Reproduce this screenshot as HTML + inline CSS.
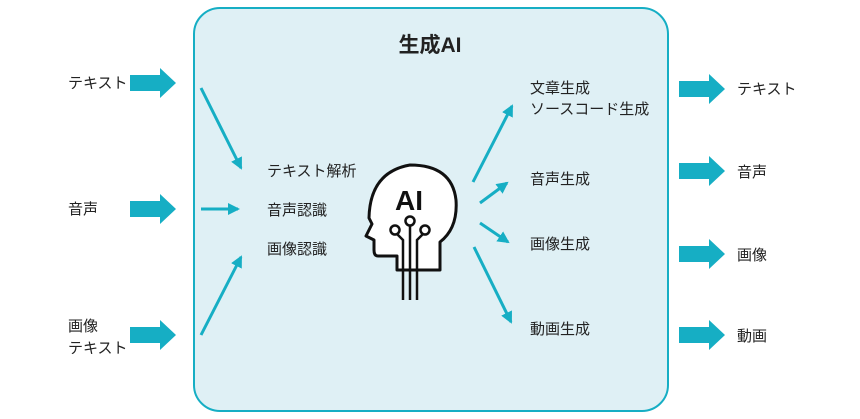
<!DOCTYPE html>
<html><head><meta charset="utf-8"><style>
html,body{margin:0;padding:0;background:#fff;width:860px;height:419px;overflow:hidden}
svg text{font-family:"Liberation Sans","Noto Sans CJK JP",sans-serif;fill:#222;font-size:15px}
</style></head><body>
<svg width="860" height="419" viewBox="0 0 860 419" xmlns="http://www.w3.org/2000/svg">
<defs>
<marker id="a" markerWidth="14" markerHeight="14" refX="10" refY="6" orient="auto" markerUnits="userSpaceOnUse">
<path d="M0,0 L12,6 L0,12 Z" fill="#16aec4"/>
</marker>
<g id="blk"><path d="M0,-8 H30 V-15 L46,0 L30,15 V8 H0 Z" fill="#16aec4"/></g>
</defs>
<rect x="194" y="8" width="474" height="403" rx="26" fill="#dff0f5" stroke="#16aec4" stroke-width="2"/>
<text x="430" y="52" text-anchor="middle" style="font-size:21px;font-weight:bold">生成AI</text>

<text x="68" y="88">テキスト</text>
<text x="68" y="214">音声</text>
<text x="68" y="331">画像</text>
<text x="68" y="353">テキスト</text>
<use href="#blk" x="130" y="83"/>
<use href="#blk" x="130" y="209"/>
<use href="#blk" x="130" y="335"/>

<g stroke="#16aec4" stroke-width="3" fill="none" marker-end="url(#a)">
<line x1="201" y1="88" x2="241" y2="168"/>
<line x1="201" y1="209" x2="238" y2="209"/>
<line x1="201" y1="335" x2="241" y2="257"/>
<line x1="473" y1="182" x2="512" y2="106"/>
<line x1="480" y1="203" x2="507" y2="183"/>
<line x1="480" y1="223" x2="508" y2="242"/>
<line x1="474" y1="247" x2="511" y2="322"/>
</g>

<text x="267" y="176">テキスト解析</text>
<text x="267" y="215">音声認識</text>
<text x="267" y="254">画像認識</text>

<text x="530" y="93">文章生成</text>
<text x="530" y="114">ソースコード生成</text>
<text x="530" y="184">音声生成</text>
<text x="530" y="249">画像生成</text>
<text x="530" y="334">動画生成</text>

<use href="#blk" x="679" y="89"/>
<use href="#blk" x="679" y="171"/>
<use href="#blk" x="679" y="254"/>
<use href="#blk" x="679" y="335"/>
<text x="737" y="94">テキスト</text>
<text x="737" y="177">音声</text>
<text x="737" y="260">画像</text>
<text x="737" y="341">動画</text>

<g stroke="#111" stroke-width="3" fill="#fff" stroke-linejoin="round">
<path d="M397,270 L397,256 L378,256 Q374,256 374,250 L374,240 L366,236 L372,224 L369,218 Q370,172 410,165 Q452,165 456,200 Q458,228 440,242 L440,270 Z"/>
</g>
<text x="409" y="210" text-anchor="middle" style="font-size:28px;font-weight:bold;fill:#111">AI</text>
<g stroke="#111" stroke-width="2.5" fill="none">
<line x1="410" y1="226" x2="410" y2="300"/>
<line x1="403" y1="245" x2="403" y2="300"/>
<line x1="417" y1="245" x2="417" y2="300"/>
<path d="M403,245 L403,240 L397,234"/>
<path d="M417,245 L417,240 L423,234"/>
<circle cx="410" cy="221" r="4.5" fill="#fff"/>
<circle cx="395" cy="230" r="4.5" fill="#fff"/>
<circle cx="425" cy="230" r="4.5" fill="#fff"/>
</g>
</svg>
</body></html>
